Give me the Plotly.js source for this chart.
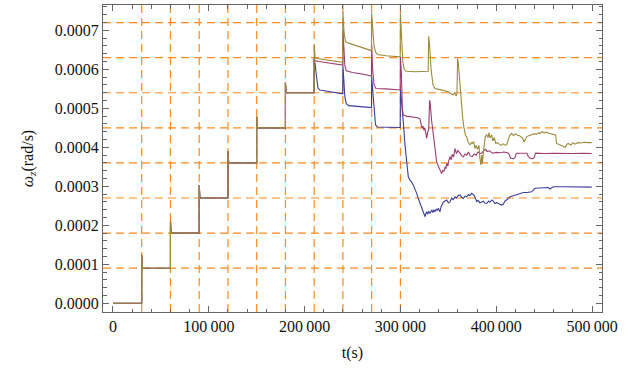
<!DOCTYPE html>
<html>
<head>
<meta charset="utf-8">
<script src="https://cdn.plot.ly/plotly-3.0.1.min.js"></script>
<style>html,body{margin:0;padding:0;background:#fff;}#chart{width:634px;height:369px;}</style>
</head>
<body>
<div id="chart"></div>
<script>
// ---- data ----
// common part (all three runs identical until t = 210000 s)
var tBase = [0, 30000, 30000, 30800, 60000, 60000, 60800, 90000, 90000, 90800, 120000, 120000, 120800, 150000, 150000, 150800, 180000, 180000, 180800, 210000];
var wBase = [0, 0, 0.000124, 0.00009, 0.00009, 0.000212, 0.00018, 0.00018, 0.000303, 0.00027, 0.00027, 0.00039, 0.00036, 0.00036, 0.000478, 0.00045, 0.00045, 0.000566, 0.00054, 0.00054];

var tBlue = [210000,211000,212000,213000,214000,216000,222000,230000,239800,
  240000,241000,242000,243500,246000,255000,265000,269800,
  270000,271000,272500,274000,276000,285000,295000,299800,
  300000,301500,303000,304800,306600,308200,310000,311500,313500,315000,317000,318500,320400,322000,323900,325700,326500,327400,328500,329500,330900,331800,332700,334000,335000,336100,337500,338500,339600,341300,342500,344800,346500,348300,350000,351800,353500,355000,357000,358500,360000,362200,363800,365600,367500,369200,371000,372500,374400,377100,378500,379600,381000,383000,384800,386500,388000,390000,392000,393500,395300,397000,398700,400500,402200,404000,405700,407400,409000,410900,412500,414400,417000,420000,424800,428300,432000,437000,440500,447000,454400,456100,459600,470000,482200,490000,499700];
var wBlue = [0.00062,0.000615,0.00059,0.000565,0.000552,0.000547,0.000544,0.00054,0.000537,
  0.00061,0.00058,0.00053,0.000512,0.000507,0.000505,0.000503,0.000502,
  0.00058,0.00055,0.00049,0.000458,0.000452,0.000451,0.00045,0.000451,
  0.00055,0.000515,0.000466,0.000406,0.000363,0.000325,0.000315,0.000312,0.000303,0.000295,0.000282,0.00027,0.000256,0.000246,0.000235,0.000222,0.00023,0.000235,0.000228,0.000236,0.000231,0.000238,0.000239,0.000233,0.00024,0.000235,0.000242,0.000238,0.000244,0.000235,0.000248,0.00026,0.000262,0.000265,0.000258,0.00026,0.00027,0.000266,0.000273,0.00027,0.000276,0.000278,0.000272,0.000269,0.000275,0.000273,0.000279,0.000276,0.000282,0.000276,0.000268,0.00026,0.000264,0.000258,0.00026,0.000262,0.000257,0.000256,0.000262,0.000259,0.000265,0.000262,0.000256,0.000258,0.000256,0.000253,0.000252,0.000254,0.000262,0.000265,0.00027,0.000273,0.000275,0.000277,0.00028,0.000284,0.000284,0.000286,0.000295,0.000296,0.000297,0.000293,0.000299,0.000299,0.000299,0.000298,0.000298];

var tMagenta = [210000,211000,215000,225000,239800,
  240000,241000,242000,243500,250000,260000,269800,
  270000,271000,272500,274500,285000,299800,
  300000,301000,302000,303000,306000,312000,318000,320400,321500,322500,323500,324500,325500,326500,327400,328500,329500,330500,331200,332500,334400,336000,337800,339500,341000,343000,344500,345500,346600,347500,348300,349500,350500,351800,353000,354000,355500,357000,358500,360000,362200,364000,365600,367500,369200,371000,373000,375000,377000,379000,381000,383000,385000,387000,389000,390500,393000,396000,400000,404000,408000,412000,413500,415000,417500,419500,421000,425000,429000,432000,433500,435500,437500,439500,441000,450000,460000,470000,480000,490000,499700];
var wMagenta = [0.00063,0.000622,0.00062,0.000616,0.000611,
  0.0007,0.00065,0.00061,0.000596,0.000592,0.000588,0.000583,
  0.00066,0.0006,0.00056,0.000551,0.00055,0.000547,
  0.000632,0.00059,0.0005,0.000483,0.00048,0.000478,0.000476,0.000473,0.00046,0.000449,0.000455,0.000444,0.00045,0.000432,0.000423,0.00044,0.000445,0.000521,0.00051,0.00047,0.000432,0.0004,0.000363,0.000352,0.000345,0.000333,0.000342,0.000338,0.00035,0.000345,0.000359,0.000352,0.000366,0.000376,0.000368,0.000382,0.000375,0.000397,0.000384,0.000392,0.000385,0.000378,0.000376,0.000383,0.00038,0.000388,0.000378,0.000376,0.000383,0.00038,0.000388,0.000385,0.000385,0.000392,0.000395,0.000389,0.000391,0.000385,0.000387,0.000386,0.000388,0.000386,0.000382,0.000372,0.000371,0.000373,0.000385,0.000385,0.000384,0.000385,0.000376,0.000372,0.000371,0.000373,0.000385,0.000384,0.000385,0.000384,0.000384,0.000385,0.000384];

var tOlive = [210000,211000,213000,225000,239800,
  240000,241000,242500,244000,250000,258000,265000,269800,
  270000,271000,272500,274000,276000,285000,299800,
  300000,301000,302500,304000,306000,315000,325000,329000,
  329500,330500,332000,334000,336000,340000,345000,350000,353000,355000,356500,358000,359000,
  359700,360500,361500,363000,365000,366400,368000,369200,370500,372700,374000,375200,376500,377800,379000,380500,382000,383000,384000,384800,385500,386500,387500,388500,390000,391500,392500,393500,395300,396500,398000,399500,401000,403000,405000,407000,409000,410900,412500,414000,416000,418000,420000,421400,424000,426000,427500,429000,430500,431800,434000,437000,440000,442000,444000,446000,448000,450000,452000,455000,458000,462000,463000,465000,468000,470000,472000,473500,475000,478000,480000,482000,485000,488000,492000,496000,499700];
var wOlive = [0.000662,0.00063,0.000628,0.000623,0.000618,
  0.000747,0.0007,0.000672,0.000669,0.000664,0.000657,0.000651,0.000648,
  0.000744,0.0007,0.00066,0.000645,0.000638,0.000635,0.000632,
  0.000744,0.00068,0.00062,0.0006,0.000595,0.000594,0.000594,0.000595,
  0.000685,0.00066,0.0006,0.00056,0.000551,0.000549,0.000546,0.000542,0.000538,0.000534,0.00054,0.000532,0.000536,
  0.000628,0.000615,0.00058,0.00052,0.000475,0.000449,0.00043,0.000427,0.000415,0.000406,0.000412,0.00041,0.000415,0.000397,0.000405,0.000395,0.000405,0.00037,0.000355,0.00038,0.000358,0.000385,0.00041,0.000427,0.000432,0.000425,0.000438,0.000424,0.000432,0.000416,0.000425,0.00041,0.000412,0.000408,0.000405,0.000409,0.000406,0.000406,0.00042,0.00043,0.000436,0.00043,0.000435,0.000432,0.00043,0.000427,0.000424,0.000414,0.000422,0.000427,0.00043,0.000432,0.000435,0.000433,0.000437,0.000436,0.00044,0.000437,0.000439,0.000436,0.000434,0.000432,0.00041,0.000408,0.000405,0.000402,0.0004,0.000407,0.00041,0.000406,0.000412,0.000408,0.000412,0.000411,0.000413,0.000412,0.000412];

// grid lines and ticks (data coordinates)
var gridT = [30000, 60000, 90000, 120000, 150000, 180000, 210000, 240000, 270000, 300000];
var gridW = [0.00009, 0.00018, 0.00027, 0.00036, 0.00045, 0.00054, 0.00063, 0.00072];
var xTickVals = [0, 100000, 200000, 300000, 400000, 500000];
var xTickText = ['0', '100\u2009000', '200\u2009000', '300\u2009000', '400\u2009000', '500\u2009000'];
var yTickVals = [0, 0.0001, 0.0002, 0.0003, 0.0004, 0.0005, 0.0006, 0.0007];
var yTickText = ['0.0000', '0.0001', '0.0002', '0.0003', '0.0004', '0.0005', '0.0006', '0.0007'];

// ---- build ----
function series(t, w, color) {
  return {
    x: tBase.concat(t), y: wBase.concat(w), type: 'scatter', mode: 'lines',
    line: {color: color, width: 1.1}, hoverinfo: 'skip', showlegend: false
  };
}
var traces = [
  series(tBlue, wBlue, '#3d3d9c'),
  series(tMagenta, wMagenta, '#9c3d72'),
  series(tOlive, wOlive, '#9c8b3d')
];

function gridLine() { return {color: '#ff8a1f', width: 1.2, dash: '8px,5px'}; }
var shapes = [];
gridT.forEach(function (v) {
  shapes.push({type: 'line', xref: 'x', yref: 'paper', x0: v, x1: v, y0: 0, y1: 1, line: gridLine(), layer: 'below'});
});
gridW.forEach(function (v) {
  shapes.push({type: 'line', xref: 'paper', yref: 'y', x0: 0, x1: 1, y0: v, y1: v, line: gridLine(), layer: 'below'});
});

function mkFont() { return {family: 'Liberation Serif', size: 16, color: '#111'}; }
var frame = '#666';
var layout = {
  width: 634, height: 369,
  margin: {l: 103, r: 32, t: 5, b: 57},
  paper_bgcolor: '#fff', plot_bgcolor: '#fff',
  font: mkFont(),
  shapes: shapes,
  xaxis: {
    range: [-10400, 510400], tickmode: 'array', tickvals: xTickVals, ticktext: xTickText,
    ticks: 'inside', ticklen: 6, tickwidth: 1, tickcolor: frame,
    showline: true, linecolor: frame, linewidth: 1, mirror: 'ticks',
    showgrid: false, zeroline: false, tickfont: mkFont(),
    minor: {tickmode: 'linear', tick0: 0, dtick: 20000, ticks: 'inside', ticklen: 3.5, tickcolor: frame, showgrid: false},
    title: {text: 't(s)', font: mkFont(), standoff: 12}
  },
  yaxis: {
    range: [-0.0000223, 0.000765], tickmode: 'array', tickvals: yTickVals, ticktext: yTickText,
    ticks: 'inside', ticklen: 6, tickwidth: 1, tickcolor: frame,
    showline: true, linecolor: frame, linewidth: 1, mirror: 'ticks',
    showgrid: false, zeroline: false, tickfont: mkFont(),
    minor: {tickmode: 'linear', tick0: 0, dtick: 0.00002, ticks: 'inside', ticklen: 3.5, tickcolor: frame, showgrid: false},
    title: {text: '<i>ω</i><sub><i>z</i></sub>(rad/s)', font: mkFont(), standoff: 17}
  }
};

Plotly.newPlot('chart', traces, layout, {displayModeBar: false, staticPlot: true});
</script>
</body>
</html>
